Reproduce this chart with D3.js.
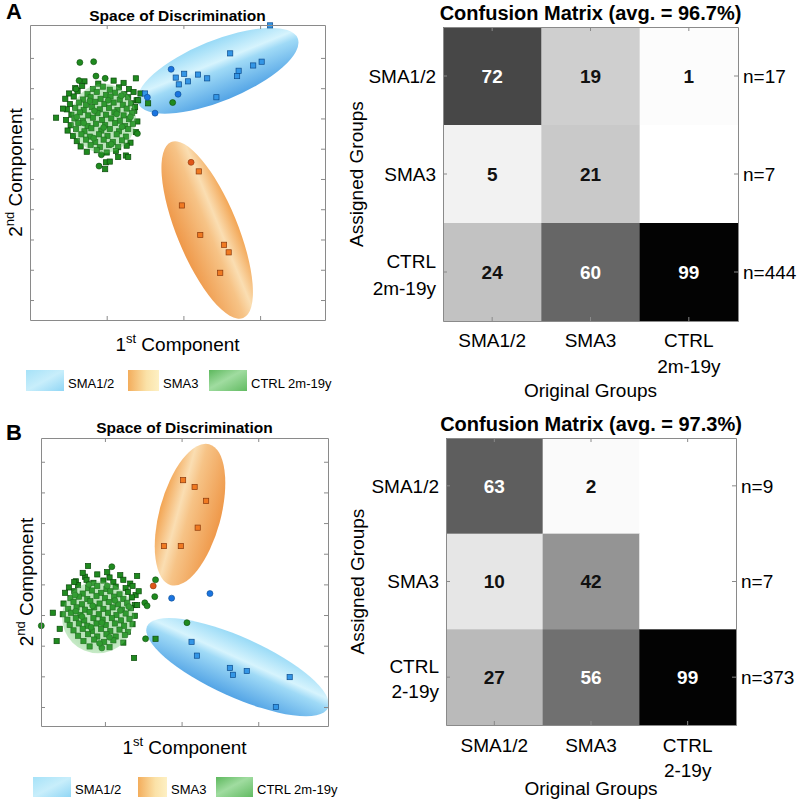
<!DOCTYPE html>
<html>
<head>
<meta charset="utf-8">
<script src="https://cdn.jsdelivr.net/npm/d3@7"></script>
<style>
  body { margin: 0; background: #fff; }
  svg { font-family: "Liberation Sans", Arial, Helvetica, sans-serif; }
</style>
</head>
<body>
<svg id="fig" width="797" height="809"></svg>
<script>
// ---------------- data ----------------
var groups = ["SMA1/2", "SMA3", "CTRL"];
var ctrlAgeA = "2m-19y", ctrlAgeB = "2-19y";
var legendLabels = ["SMA1/2", "SMA3", "CTRL 2m-19y"];

var matrixA = [[72, 19, 1], [5, 21, null], [24, 60, 99]];
var matrixB = [[63, 2, null], [10, 42, null], [27, 56, 99]];
var countsA = [17, 7, 444];
var countsB = [9, 7, 373];
var avgA = "96.7%", avgB = "97.3%";

var xTicks = [10, 20, 30];
var yTicks = [4, 8, 12, 16, 20, 24, 28, 32, 36];

// panel A scores (1st, 2nd component)
var blueSqA = [[31.3,40.3],[26.1,36.6],[29.1,35.0],[30.2,35.5],[27.2,34.3],[27.0,33.6],[19.0,33.4],[20.1,33.9],
  [21.9,33.8],[23.1,33.3],[19.4,32.5],[20.6,32.9],[24.3,30.8],[15.0,31.3]];
var blueCiA = [[18.4,34.5],[19.3,31.2],[15.3,30.8],[16.3,28.7]];
var orangeSqA = [[22.0,21.0],[19.8,16.5],[22.2,12.6],[25.3,11.3],[25.9,10.3],[24.8,7.6]];
var orangeCiA = [[21.0,22.2]];
var greenSqA = [[7.1,32.9],[8.9,32.6],[10.9,33.0],[12.2,32.7],
  [5.9,32.0],[6.8,32.3],[8.2,31.9],[9.5,32.2],[10.4,31.8],[11.6,32.1],[12.9,31.9],
  [5.1,31.3],[6.2,31.6],[7.5,31.2],[8.7,31.5],[9.9,31.1],[11.1,31.4],[12.3,31.2],[13.5,31.5],
  [4.6,30.6],[5.7,30.9],[6.9,30.5],[7.9,30.8],[9.2,30.6],[10.5,30.9],[11.7,30.5],[12.8,30.8],[13.9,30.4],
  [5.2,29.9],[6.4,30.1],[7.3,29.8],[8.5,30.2],[9.7,29.9],[10.9,30.1],[12.1,29.8],[13.2,30.0],
  [4.8,29.2],[5.9,29.4],[7.0,29.1],[8.1,29.5],[9.1,29.2],[10.3,29.4],[11.4,29.1],[12.6,29.3],[13.6,29.0],
  [5.4,28.5],[6.5,28.8],[7.6,28.4],[8.8,28.7],[9.9,28.5],[11.0,28.8],[12.2,28.4],[13.3,28.7],
  [4.7,27.8],[5.8,28.0],[6.9,27.7],[8.2,28.1],[9.4,27.8],[10.6,28.0],[11.7,27.7],[12.9,27.9],[14.0,27.6],
  [5.3,27.1],[6.3,27.4],[7.5,27.0],[8.6,27.3],[9.8,27.1],[11.1,27.4],[12.4,27.0],[13.4,27.3],
  [4.9,26.4],[6.0,26.6],[7.1,26.3],[8.0,26.7],[9.3,26.4],[10.4,26.6],[11.6,26.3],[12.8,26.6],[13.8,26.2],
  [5.6,25.7],[6.7,25.9],[7.8,25.6],[9.0,25.9],[10.1,25.7],[11.3,25.9],[12.5,25.6],
  [6.1,25.0],[7.3,25.2],[8.5,24.9],[9.6,25.2],[10.8,24.9],[12.0,25.1],[13.1,24.8],
  [6.6,24.3],[7.9,24.5],[9.1,24.2],[10.3,24.5],[11.5,24.2],[12.6,24.4],
  [7.4,23.6],[8.7,23.8],[10.0,23.5],[11.2,23.7],
  [3.4,28.1],[4.3,29.3],[11.5,22.9],[12.5,23.1],[12.8,22.9],[9.9,22.2],[10.4,22.3],[9.8,21.3],
  [15.4,30.0],[14.1,30.4],[13.7,29.5],[14.4,31.3],[13.8,33.3]];
var greenCiA = [[6.5,35.4],[8.3,35.5],[6.4,33.0],[8.6,33.6],[9.8,33.3],[14.0,26.0],[9.0,21.7],[18.6,30.1],
  [6.0,31.9],[7.8,30.3],[10.2,30.4],[8.4,29.0],[11.3,28.6],[7.0,27.4],[9.6,26.8],[12.0,26.9],
  [8.3,25.4],[10.6,24.6],[6.1,28.2],[13.1,28.2],[9.3,23.2],[11.9,31.0]];

// panel B scores
var blueSqB = [[21.3,12.5],[22.0,10.7],[26.3,9.1],[26.7,8.2],[28.5,8.7],[32.3,4.0],[34.1,7.9]];
var blueCiB = [[18.7,18.2],[23.7,18.8]];
var orangeSqB = [[20.2,33.6],[21.7,32.7],[23.2,30.9],[22.1,27.4],[17.7,25.0],[19.9,25.0]];
var orangeCiB = [[16.3,19.8]];
var greenSqB = [[7.4,21.0],[9.0,21.3],[10.6,20.9],[12.0,21.2],
  [6.2,20.4],[7.6,20.6],[8.5,20.2],[9.8,20.5],[11.1,20.3],[12.4,20.6],[13.3,20.1],
  [5.3,19.6],[6.5,19.9],[7.8,19.5],[9.0,19.8],[10.2,19.4],[11.4,19.7],[12.7,19.5],[13.6,19.8],
  [4.8,18.9],[6.0,19.1],[7.1,18.8],[8.3,19.2],[9.5,18.9],[10.7,19.1],[11.9,18.7],[13.0,19.0],[14.0,18.6],
  [5.5,18.2],[6.6,18.4],[7.7,18.1],[8.9,18.5],[10.0,18.2],[11.2,18.4],[12.4,18.1],[13.5,18.3],
  [4.6,17.5],[5.9,17.7],[7.0,17.4],[8.1,17.8],[9.3,17.5],[10.5,17.7],[11.7,17.4],[12.9,17.6],[13.9,17.3],
  [5.2,16.8],[6.3,17.0],[7.4,16.7],[8.6,17.0],[9.8,16.8],[11.0,17.0],[12.2,16.7],[13.4,16.9],
  [4.5,16.1],[5.6,16.3],[6.8,16.0],[8.0,16.4],[9.2,16.1],[10.4,16.3],[11.5,16.0],[12.7,16.2],[13.9,15.9],
  [5.1,15.4],[6.2,15.6],[7.3,15.3],[8.5,15.6],[9.7,15.4],[10.9,15.6],[12.1,15.3],[13.2,15.5],
  [5.4,14.7],[6.6,14.9],[7.7,14.6],[8.9,14.9],[10.1,14.7],[11.3,14.9],[12.5,14.6],[13.6,14.8],
  [5.9,14.0],[7.1,14.2],[8.3,13.9],[9.5,14.2],[10.7,13.9],[11.9,14.1],[13.0,13.8],
  [6.5,13.3],[7.8,13.5],[9.0,13.2],[10.2,13.5],[11.4,13.2],[12.6,13.4],
  [7.2,12.6],[8.6,12.8],[9.9,12.5],[11.1,12.7],[12.4,12.4],[8.0,11.9],[10.6,11.8],
  [3.2,16.3],[4.1,14.2],[3.7,12.6],[6.0,20.3],[7.8,22.4],[7.1,21.5],[10.3,21.6],[14.2,21.1],
  [14.4,19.1],[16.6,12.9],[13.8,10.4],[14.2,17.3]];
var greenCiB = [[1.7,14.6],[10.9,22.3],[16.6,20.6],[16.5,18.4],[15.2,17.6],[15.5,17.2],[20.7,15.0],[15.3,12.9],[9.6,11.7],
  [6.1,18.6],[7.9,20.0],[10.3,19.8],[8.4,17.2],[11.3,17.9],[7.0,15.8],[9.6,15.0],[12.0,16.6],[8.2,14.4],
  [10.6,13.1],[6.2,16.5],[13.1,17.1],[9.3,12.3]];

// group regions: centre, end of long axis, width/length
var regionsA = [
  {group: "orange", c: [23.1, 13.25], end: [27.8, 1.62], ratio: 0.32},
  {group: "blue", c: [24.5, 34.3], end: [34.9, 38.6], ratio: 0.35},
  {group: "green", c: [9.6, 28.0], end: [9.6, 32.6], ratio: 0.93}
];
var regionsB = [
  {group: "orange", c: [21.1, 29.1], end: [23.6, 38.3], ratio: 0.42},
  {group: "blue", c: [27.3, 9.2], end: [39.1, 3.87], ratio: 0.3},
  {group: "green", c: [9.1, 15.7], end: [9.1, 20.4], ratio: 1.0}
];

// ---------------- drawing ----------------
var svg = d3.select("#fig");
var defs = svg.append("defs");
var AXIS = "#8a8a8a";

function linGrad(id, stops, x2, y2) {
  var gr = defs.append("linearGradient").attr("id", id)
    .attr("x1", 0).attr("y1", 0).attr("x2", x2).attr("y2", y2);
  stops.forEach(function(s) {
    gr.append("stop").attr("offset", s[0]).attr("stop-color", s[1]);
  });
}
linGrad("g-blue", [[0, "#93d8f6"], [0.36, "#d4f3fd"], [0.5, "#9ad8f6"], [1, "#4a9fe4"]], 0, 1);
linGrad("g-orange", [[0, "#f2a04a"], [0.3, "#fadcae"], [0.48, "#f6c080"], [1, "#ee9340"]], 0, 1);
linGrad("l-blue", [[0, "#a6e2f8"], [0.5, "#c8eefb"], [1, "#90d6f5"]], 1, 1);
linGrad("l-orange", [[0, "#f3ad5c"], [0.6, "#fbe2a8"], [1, "#fdf0c4"]], 1, 0);
linGrad("l-green", [[0, "#5db85d"], [0.45, "#a0dca0"], [1, "#62bb62"]], 1, 1);
var rg = defs.append("radialGradient").attr("id", "g-green");
rg.append("stop").attr("offset", 0).attr("stop-color", "#3fae3f");
rg.append("stop").attr("offset", 0.85).attr("stop-color", "#4cb84c");
rg.append("stop").attr("offset", 1).attr("stop-color", "#6cc86c");

var markerStyle = {
  green: {square: "#1f8a1f", circle: "#1f8a1f", stroke: "#0b4a0b"},
  orange: {square: "#f07a22", circle: "#e0561a", stroke: "#8a380a"},
  blue: {square: "#3496e6", circle: "#1a74e0", stroke: "#0c4c8e"}
};

function superLabel(sel, num, sup) {
  sel.append("tspan").text(num);
  sel.append("tspan").attr("font-size", 13).attr("dy", -8).text(sup);
  sel.append("tspan").attr("dy", 8).text(" Component");
}

function drawPoints(g, x, y, p) {
  var st = markerStyle[p.group];
  if (p.shape === "square") {
    g.append("g").selectAll("rect").data(p.data).join("rect")
      .attr("x", function(d) { return x(d[0]) - 2.6; })
      .attr("y", function(d) { return y(d[1]) - 2.6; })
      .attr("width", 5.2).attr("height", 5.2)
      .attr("fill", st.square).attr("stroke", st.stroke).attr("stroke-width", 0.7);
  } else {
    g.append("g").selectAll("circle").data(p.data).join("circle")
      .attr("cx", function(d) { return x(d[0]); })
      .attr("cy", function(d) { return y(d[1]); })
      .attr("r", 3)
      .attr("fill", st.circle).attr("stroke", st.stroke).attr("stroke-width", 0.6);
  }
}

function scatterPanel(L, pts, regions) {
  var g = svg.append("g");
  var x = d3.scaleLinear().domain(L.xDomain).range([L.left, L.right]);
  var y = d3.scaleLinear().domain(L.yDomain).range([L.bottom, L.top]);

  g.append("text").attr("x", L.letterX).attr("y", L.letterY)
    .attr("font-size", 22).attr("font-weight", "bold").text(L.letter);
  g.append("text").attr("x", (L.left + L.right) / 2).attr("y", L.titleY)
    .attr("text-anchor", "middle").attr("font-size", 15.5).attr("font-weight", "bold")
    .text("Space of Discrimination");

  function region(e) {
    var cx = x(e.c[0]), cy = y(e.c[1]), ex = x(e.end[0]), ey = y(e.end[1]);
    var a = Math.hypot(ex - cx, ey - cy);
    var ang = Math.atan2(ey - cy, ex - cx) * 180 / Math.PI;
    g.append("ellipse").attr("rx", a).attr("ry", a * e.ratio)
      .attr("transform", "translate(" + cx + "," + cy + ") rotate(" + ang + ")")
      .attr("fill", "url(#g-" + e.group + ")")
      .attr("opacity", e.group === "green" ? 0.38 : 0.95);
  }

  // coloured regions for the patient groups sit under the markers,
  // the control region is laid over its (dense) cloud
  regions.filter(function(e) { return e.group !== "green"; }).forEach(region);
  pts.forEach(function(p) { drawPoints(g, x, y, p); });
  regions.filter(function(e) { return e.group === "green"; }).forEach(region);

  // box with inward ticks
  var axes = [
    [d3.axisBottom(x).tickValues(xTicks), "translate(0," + L.bottom + ")"],
    [d3.axisTop(x).tickValues(xTicks), "translate(0," + L.top + ")"],
    [d3.axisLeft(y).tickValues(yTicks), "translate(" + L.left + ",0)"],
    [d3.axisRight(y).tickValues(yTicks), "translate(" + L.right + ",0)"]
  ];
  axes.forEach(function(ax) {
    var a = g.append("g").attr("transform", ax[1])
      .call(ax[0].tickSize(-4).tickSizeOuter(0).tickFormat(""));
    a.selectAll("path, line").attr("stroke", AXIS);
  });

  var xl = g.append("text").attr("x", (L.left + L.right) / 2).attr("y", L.xLabelY)
    .attr("text-anchor", "middle").attr("font-size", 19);
  superLabel(xl, "1", "st");
  var yl = g.append("text").attr("text-anchor", "middle").attr("font-size", 19)
    .attr("transform", "translate(" + L.yLabelX + "," + (L.top + L.bottom) / 2 + ") rotate(-90)");
  superLabel(yl, "2", "nd");

  // legend
  var fills = ["url(#l-blue)", "url(#l-orange)", "url(#l-green)"];
  legendLabels.forEach(function(t, i) {
    g.append("rect").attr("x", L.legX[i]).attr("y", L.legY).attr("width", L.legW[i]).attr("height", L.legH)
      .attr("fill", fills[i]);
    g.append("text").attr("x", L.legTX[i]).attr("y", L.legTY).attr("font-size", 13).text(t);
  });
}

function matrixPanel(L, m, counts, ctrlAge, avg) {
  var g = svg.append("g");
  var cols = d3.scaleBand().domain(d3.range(groups.length)).range([L.left, L.right]);
  var rows = d3.scaleBand().domain(d3.range(groups.length)).range([L.top, L.bottom]);
  var shade = d3.scaleLinear().domain([0, 100]).range(["#ffffff", "#000000"]);
  var cells = [];
  m.forEach(function(r, i) { r.forEach(function(v, j) { cells.push({i: i, j: j, v: v}); }); });

  g.append("text").attr("x", (L.left + L.right) / 2).attr("y", L.titleY)
    .attr("text-anchor", "middle").attr("font-size", 20).attr("font-weight", "bold")
    .text("Confusion Matrix (avg. = " + avg + ")");

  g.selectAll("rect.cell").data(cells).join("rect").attr("class", "cell")
    .attr("x", function(d) { return cols(d.j); })
    .attr("y", function(d) { return rows(d.i); })
    .attr("width", cols.bandwidth() + 0.5).attr("height", rows.bandwidth() + 0.5)
    .attr("fill", function(d) { return shade(d.v == null ? 0 : d.v); });

  g.selectAll("text.val").data(cells.filter(function(d) { return d.v != null; })).join("text")
    .attr("class", "val")
    .attr("x", function(d) { return cols(d.j) + cols.bandwidth() / 2; })
    .attr("y", function(d) { return rows(d.i) + rows.bandwidth() / 2; })
    .attr("dy", "0.36em").attr("text-anchor", "middle")
    .attr("font-size", 19).attr("font-weight", "bold")
    .attr("fill", function(d) { return d.v > 50 ? "#ffffff" : "#111111"; })
    .text(function(d) { return d.v; });

  var axes = [
    [d3.axisBottom(cols), "translate(0," + L.bottom + ")"],
    [d3.axisTop(cols), "translate(0," + L.top + ")"],
    [d3.axisLeft(rows), "translate(" + L.left + ",0)"],
    [d3.axisRight(rows), "translate(" + L.right + ",0)"]
  ];
  axes.forEach(function(ax) {
    var a = g.append("g").attr("transform", ax[1])
      .call(ax[0].tickSize(-4).tickSizeOuter(0).tickFormat(""));
    a.selectAll("path, line").attr("stroke", AXIS);
  });

  groups.forEach(function(name, i) {
    var cy = rows(i) + rows.bandwidth() / 2;
    var cx = cols(i) + cols.bandwidth() / 2;
    var rl = g.append("text").attr("text-anchor", "end").attr("font-size", 19);
    var cl = g.append("text").attr("text-anchor", "middle").attr("font-size", 19);
    if (name === "CTRL") {
      rl.append("tspan").attr("x", L.left - 7).attr("y", cy + L.ctrlDy[0]).text(name);
      rl.append("tspan").attr("x", L.left - 7).attr("y", cy + L.ctrlDy[1]).text(ctrlAge);
      cl.append("tspan").attr("x", cx).attr("y", L.bottom + L.colDy[0]).text(name);
      cl.append("tspan").attr("x", cx).attr("y", L.bottom + L.colDy[1]).text(ctrlAge);
    } else {
      rl.attr("x", L.left - 7).attr("y", cy).attr("dy", "0.36em").text(name);
      cl.attr("x", cx).attr("y", L.bottom + L.colDy[0]).text(name);
    }
    g.append("text").attr("x", L.right + 5).attr("y", cy).attr("dy", "0.36em")
      .attr("font-size", 19).text("n=" + counts[i]);
  });

  g.append("text").attr("x", (L.left + L.right) / 2).attr("y", L.bottom + L.colDy[2])
    .attr("text-anchor", "middle").attr("font-size", 19).text("Original Groups");
  g.append("text").attr("text-anchor", "middle").attr("font-size", 19)
    .attr("transform", "translate(" + L.yLabelX + "," + (L.top + L.bottom) / 2 + ") rotate(-90)")
    .text("Assigned Groups");
}

function pointSets(bs, bc, os, oc, gs, gc) {
  return [
    {group: "green", shape: "square", data: gs},
    {group: "green", shape: "circle", data: gc},
    {group: "orange", shape: "square", data: os},
    {group: "orange", shape: "circle", data: oc},
    {group: "blue", shape: "square", data: bs},
    {group: "blue", shape: "circle", data: bc}
  ];
}

scatterPanel({
  letter: "A", letterX: 6, letterY: 19, titleY: 21,
  left: 30, right: 325, top: 25, bottom: 320,
  xDomain: [0, 38.46], yDomain: [1.36, 40.35],
  xLabelY: 351, yLabelX: 22,
  legX: [26, 128, 209], legW: [38, 31, 38], legY: 370, legH: 21,
  legTX: [68, 163, 251], legTY: 388
}, pointSets(blueSqA, blueCiA, orangeSqA, orangeCiA, greenSqA, greenCiA), regionsA);

scatterPanel({
  letter: "B", letterX: 6, letterY: 440, titleY: 433,
  left: 41, right: 328, top: 438, bottom: 726,
  xDomain: [1.66, 39.1], yDomain: [1.52, 39.1],
  xLabelY: 754, yLabelX: 33,
  legX: [33, 138, 216], legW: [38, 29, 37], legY: 777, legH: 20,
  legTX: [75, 171, 257], legTY: 794
}, pointSets(blueSqB, blueCiB, orangeSqB, orangeCiB, greenSqB, greenCiB), regionsB);

matrixPanel({
  left: 443, right: 738, top: 27, bottom: 321, titleY: 20,
  ctrlDy: [-4, 23], colDy: [26, 52, 76], yLabelX: 363
}, matrixA, countsA, ctrlAgeA, avgA);

matrixPanel({
  left: 446, right: 736, top: 438, bottom: 725, titleY: 431,
  ctrlDy: [-4, 21], colDy: [27, 52, 70], yLabelX: 364
}, matrixB, countsB, ctrlAgeB, avgB);
</script>
</body>
</html>
